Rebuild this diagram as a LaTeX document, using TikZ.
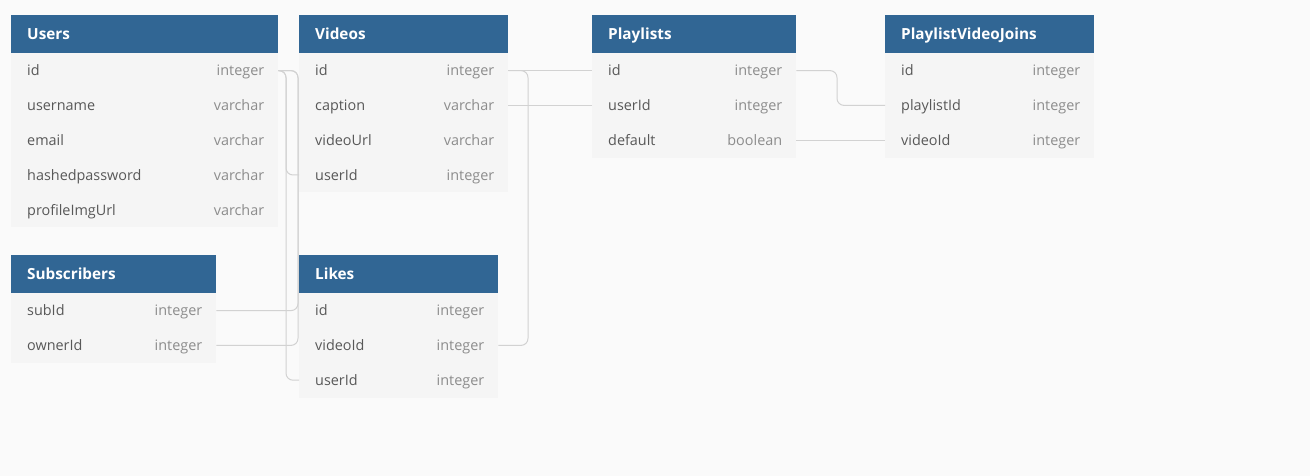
\documentclass[tikz,border=0pt]{standalone}
\usepackage{fontspec}
\setmainfont{Open Sans}
\definecolor{hdr}{RGB}{49,102,148}
\definecolor{bodyc}{RGB}{245,245,245}
\definecolor{pagebg}{RGB}{250,250,250}
\definecolor{linec}{RGB}{210,210,210}
\definecolor{namec}{RGB}{88,88,88}
\definecolor{typec}{RGB}{140,140,140}
\tikzset{
  hdrbox/.style={fill=hdr, draw=none, anchor=north west, inner sep=0pt, minimum height=38pt},
  hdrtext/.style={anchor=west, inner sep=0pt, text=white, font=\fontsize{15.3}{18}\selectfont\bfseries, text height=10.5pt, text depth=3pt},
  rowbox/.style={fill=bodyc, draw=none, anchor=north west, inner sep=0pt, minimum height=34.8pt},
  fname/.style={anchor=west, inner sep=0pt, text=namec, font=\fontsize{14.4}{17}\selectfont, text height=10pt, text depth=3pt},
  ftype/.style={anchor=east, inner sep=0pt, text=typec, font=\fontsize{14.4}{17}\selectfont, text height=10pt, text depth=3pt},
  conn/.style={draw=linec, line width=1pt, rounded corners=7pt}
}
\newcommand\dbhead[5]{%
  \node[hdrbox, minimum width=#4pt] (#1) at (#2,#3) {};
  \node[hdrtext] (#1-t) at ([xshift=16pt, yshift=-2pt]#1.west) {#5};}
\newcommand\dbrow[6]{%
  \node[rowbox, minimum width=#4pt] (#1) at (#2,#3) {};
  \node[fname] (#1-n) at ([xshift=16pt, yshift=-1.8pt]#1.west) {#5};
  \node[ftype] (#1-ty) at ([xshift=-14pt, yshift=-1.8pt]#1.east) {#6};}
\begin{document}
\begin{tikzpicture}[x=1pt, y=-1pt]
\fill[pagebg] (0,0) rectangle (1310,476);
\useasboundingbox (0,0) rectangle (1310,476);

% Users
\dbhead{users}{11}{15}{267}{Users}
\dbrow{users-id}{11}{53}{267}{id}{integer}
\dbrow{users-username}{11}{87.8}{267}{username}{varchar}
\dbrow{users-email}{11}{122.6}{267}{email}{varchar}
\dbrow{users-hashedpassword}{11}{157.4}{267}{hashedpassword}{varchar}
\dbrow{users-profileimgurl}{11}{192.2}{267}{profileImgUrl}{varchar}

% Videos
\dbhead{videos}{299}{15}{209}{Videos}
\dbrow{videos-id}{299}{53}{209}{id}{integer}
\dbrow{videos-caption}{299}{87.8}{209}{caption}{varchar}
\dbrow{videos-videourl}{299}{122.6}{209}{videoUrl}{varchar}
\dbrow{videos-userid}{299}{157.4}{209}{userId}{integer}

% Playlists
\dbhead{playlists}{592}{15}{204}{Playlists}
\dbrow{playlists-id}{592}{53}{204}{id}{integer}
\dbrow{playlists-userid}{592}{87.8}{204}{userId}{integer}
\dbrow{playlists-default}{592}{122.6}{204}{default}{boolean}

% PlaylistVideoJoins
\dbhead{pvj}{885}{15}{209}{PlaylistVideoJoins}
\dbrow{pvj-id}{885}{53}{209}{id}{integer}
\dbrow{pvj-playlistid}{885}{87.8}{209}{playlistId}{integer}
\dbrow{pvj-videoid}{885}{122.6}{209}{videoId}{integer}

% Subscribers
\dbhead{subs}{11}{255}{205}{Subscribers}
\dbrow{subs-subid}{11}{293}{205}{subId}{integer}
\dbrow{subs-ownerid}{11}{327.8}{205}{ownerId}{integer}

% Likes
\dbhead{likes}{299}{255}{199}{Likes}
\dbrow{likes-id}{299}{293}{199}{id}{integer}
\dbrow{likes-videoid}{299}{327.8}{199}{videoId}{integer}
\dbrow{likes-userid}{299}{362.6}{199}{userId}{integer}

% routing columns
\coordinate (xa) at (286,0);
\coordinate (xb) at (298,0);
\coordinate (xc) at (528,0);
\coordinate (xd) at (837,0);

% connectors
\draw[conn] (users-id.east) -| (xa |- videos-userid.west) -- (videos-userid.west);
\draw[conn] (users-id.east) -| (xa |- likes-userid.west) -- (likes-userid.west);
\draw[conn] (subs-subid.east) -| (xb |- users-id.east) -- (users-id.east);
\draw[conn] (subs-ownerid.east) -| (xb |- users-id.east) -- (users-id.east);
\draw[conn] (videos-id.east) -- (playlists-id.west);
\draw[conn] (videos-id.east) -| (xc |- likes-videoid.east) -- (likes-videoid.east);
\draw[conn] (playlists-userid.west) -- (videos-caption.east);
\draw[conn] (playlists-id.east) -| (xd |- pvj-playlistid.west) -- (pvj-playlistid.west);
\draw[conn] (playlists-default.east) -- (pvj-videoid.west);
\end{tikzpicture}
\end{document}
